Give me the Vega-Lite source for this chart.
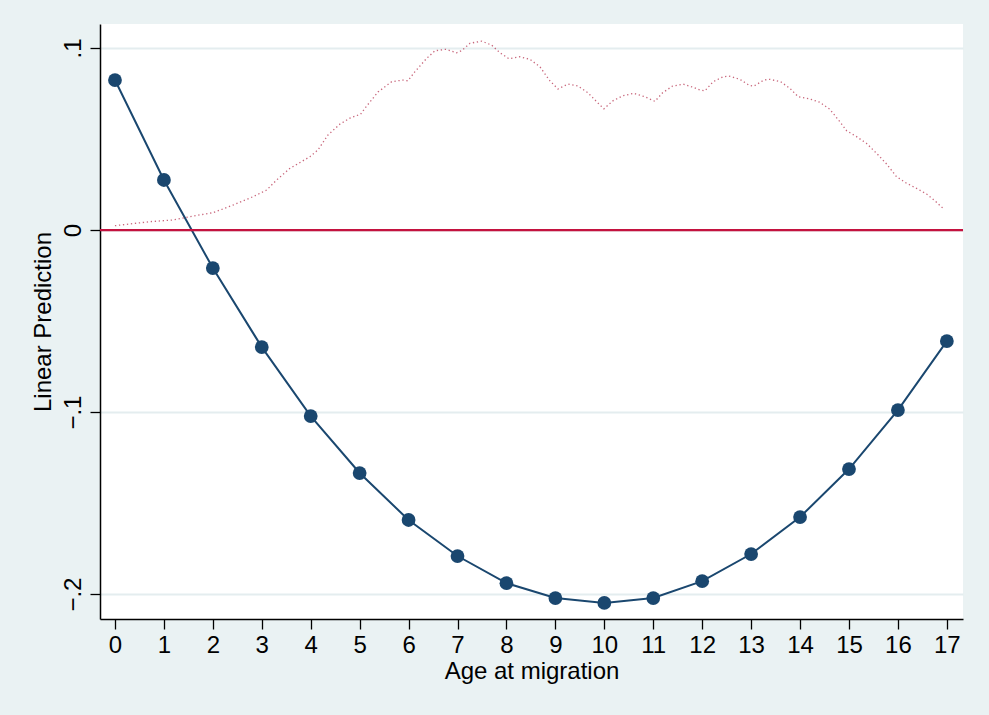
{
  "$schema": "https://vega.github.io/schema/vega-lite/v6.json",
  "width": 863,
  "height": 595,
  "autosize": "none",
  "padding": {"left": 100, "top": 24, "right": 26, "bottom": 96},
  "background": "#EAF2F3",
  "config": {
    "view": {"fill": "white", "stroke": null},
    "font": "Liberation Sans",
    "axis": {"labelFont": "Liberation Sans", "titleFont": "Liberation Sans", "labelColor": "black", "titleColor": "black", "domainColor": "black", "tickColor": "black", "labelFontWeight": "normal", "titleFontWeight": "normal"}
  },
  "datasets": {
    "pred": [
      {"age": 0, "pred": 0.0824}, {"age": 1, "pred": 0.0275}, {"age": 2, "pred": -0.0209},
      {"age": 3, "pred": -0.0643}, {"age": 4, "pred": -0.1022}, {"age": 5, "pred": -0.1335},
      {"age": 6, "pred": -0.1593}, {"age": 7, "pred": -0.1791}, {"age": 8, "pred": -0.1940},
      {"age": 9, "pred": -0.2022}, {"age": 10, "pred": -0.2049}, {"age": 11, "pred": -0.2022},
      {"age": 12, "pred": -0.1929}, {"age": 13, "pred": -0.1780}, {"age": 14, "pred": -0.1577},
      {"age": 15, "pred": -0.1313}, {"age": 16, "pred": -0.0989}, {"age": 17, "pred": -0.0610}
    ],
    "dens": [
      {"x": 0.000, "d": 0.0024}, {"x": 0.715, "d": 0.0046}, {"x": 1.185, "d": 0.0055}, {"x": 1.594, "d": 0.0077},
      {"x": 2.002, "d": 0.0095}, {"x": 2.411, "d": 0.0137}, {"x": 2.820, "d": 0.0183}, {"x": 3.100, "d": 0.0220},
      {"x": 3.304, "d": 0.0275}, {"x": 3.576, "d": 0.0339}, {"x": 3.984, "d": 0.0403}, {"x": 4.148, "d": 0.0440},
      {"x": 4.352, "d": 0.0522}, {"x": 4.597, "d": 0.0582}, {"x": 4.802, "d": 0.0615}, {"x": 5.020, "d": 0.0637},
      {"x": 5.143, "d": 0.0681}, {"x": 5.374, "d": 0.0758}, {"x": 5.654, "d": 0.0815}, {"x": 5.885, "d": 0.0824},
      {"x": 5.987, "d": 0.0820}, {"x": 6.130, "d": 0.0870}, {"x": 6.369, "d": 0.0943}, {"x": 6.539, "d": 0.0985},
      {"x": 6.763, "d": 0.0993}, {"x": 6.982, "d": 0.0974}, {"x": 7.084, "d": 0.0985}, {"x": 7.254, "d": 0.1026},
      {"x": 7.493, "d": 0.1038}, {"x": 7.697, "d": 0.1016}, {"x": 7.867, "d": 0.0974}, {"x": 8.051, "d": 0.0941},
      {"x": 8.276, "d": 0.0952}, {"x": 8.480, "d": 0.0938}, {"x": 8.684, "d": 0.0897}, {"x": 8.888, "d": 0.0820},
      {"x": 9.052, "d": 0.0775}, {"x": 9.256, "d": 0.0802}, {"x": 9.461, "d": 0.0791}, {"x": 9.665, "d": 0.0754},
      {"x": 9.910, "d": 0.0687}, {"x": 9.992, "d": 0.0666}, {"x": 10.176, "d": 0.0710}, {"x": 10.380, "d": 0.0738},
      {"x": 10.605, "d": 0.0751}, {"x": 10.830, "d": 0.0732}, {"x": 11.034, "d": 0.0707}, {"x": 11.191, "d": 0.0754},
      {"x": 11.395, "d": 0.0791}, {"x": 11.612, "d": 0.0802}, {"x": 11.817, "d": 0.0784}, {"x": 11.953, "d": 0.0769},
      {"x": 12.056, "d": 0.0765}, {"x": 12.225, "d": 0.0815}, {"x": 12.429, "d": 0.0842}, {"x": 12.546, "d": 0.0846},
      {"x": 12.771, "d": 0.0828}, {"x": 12.961, "d": 0.0795}, {"x": 13.057, "d": 0.0791}, {"x": 13.261, "d": 0.0824},
      {"x": 13.384, "d": 0.0828}, {"x": 13.602, "d": 0.0815}, {"x": 13.792, "d": 0.0779}, {"x": 13.962, "d": 0.0732},
      {"x": 14.187, "d": 0.0721}, {"x": 14.405, "d": 0.0702}, {"x": 14.610, "d": 0.0663}, {"x": 14.814, "d": 0.0595},
      {"x": 14.951, "d": 0.0546}, {"x": 15.155, "d": 0.0513}, {"x": 15.359, "d": 0.0476}, {"x": 15.597, "d": 0.0412},
      {"x": 15.768, "d": 0.0363}, {"x": 15.972, "d": 0.0293}, {"x": 16.177, "d": 0.0257}, {"x": 16.381, "d": 0.0229},
      {"x": 16.586, "d": 0.0198}, {"x": 16.755, "d": 0.0161}, {"x": 16.939, "d": 0.0115}
    ],
    "zero": [{"y": 0}]
  },
  "layer": [
    {
      "data": {"name": "pred"},
      "mark": {"type": "line", "color": "#1a476f", "strokeWidth": 2},
      "encoding": {
        "x": {"field": "age", "type": "quantitative",
          "scale": {"domain": [-0.306, 17.33], "nice": false, "zero": false},
          "axis": {"values": [0,1,2,3,4,5,6,7,8,9,10,11,12,13,14,15,16,17], "title": "Age at migration", "grid": false,
            "labelFontSize": 24, "titleFontSize": 24, "tickSize": 10, "tickWidth": 1.3, "domainWidth": 1.5, "labelPadding": 4, "titlePadding": 2}},
        "y": {"field": "pred", "type": "quantitative",
          "scale": {"domain": [-0.2137, 0.1132], "nice": false, "zero": false},
          "axis": {"values": [-0.2, -0.1, 0, 0.1], "title": "Linear Prediction", "grid": true, "gridColor": "#E4EDEF", "gridWidth": 2,
            "labelExpr": "datum.value == 0 ? '0' : replace(format(datum.value, '.1f'), '0.', '.')",
            "labelAngle": 270, "labelAlign": "center", "labelBaseline": "bottom", "labelPadding": 5,
            "labelFontSize": 24, "titleFontSize": 24, "tickSize": 10, "tickWidth": 1.3, "domainWidth": 1.5, "titlePadding": 6}}
      }
    },
    {
      "data": {"name": "dens"},
      "mark": {"type": "line", "color": "#b5334f", "strokeWidth": 1.3, "strokeDash": [1.3, 2.7], "opacity": 0.75},
      "encoding": {
        "x": {"field": "x", "type": "quantitative"},
        "y": {"field": "d", "type": "quantitative"}
      }
    },
    {
      "data": {"name": "zero"},
      "mark": {"type": "rule", "color": "#C4123F", "strokeWidth": 2.2},
      "encoding": {"y": {"field": "y", "type": "quantitative"}}
    },
    {
      "data": {"name": "pred"},
      "mark": {"type": "point", "filled": true, "color": "#1a476f", "size": 190, "opacity": 1},
      "encoding": {
        "x": {"field": "age", "type": "quantitative"},
        "y": {"field": "pred", "type": "quantitative"}
      }
    }
  ]
}
